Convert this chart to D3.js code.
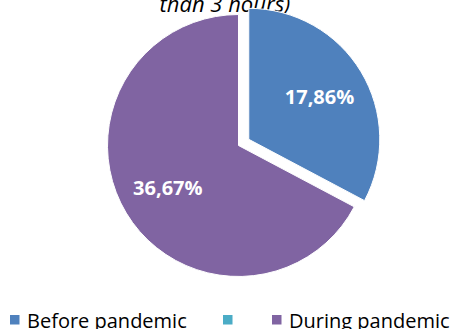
<!DOCTYPE html>
<html>
<head>
<meta charset="utf-8">
<script src="https://cdn.jsdelivr.net/npm/d3@7"></script>
<style>
  html, body { margin: 0; padding: 0; background: #fff; }
  svg { display: block; }
</style>
</head>
<body>
<svg id="chart" width="457" height="329"></svg>
<script>
// Share of respondents (sleeping less than 3 hours)
const categories = ["Before pandemic", "", "During pandemic"];
const values = [17.86, 0, 36.67];
const valueLabels = ["17,86%", "", "36,67%"];
const colors = ["#4F81BD", "#4BACC6", "#8064A2"];
const titleLine = "than 3 hours)";

const svg = d3.select("#chart");

const cx = 238.5, cy = 145.5, R = 131, explode = 12;
const font = "'Open Sans', 'Noto Sans', sans-serif";

// Last visible line of the title
svg.append("text")
  .attr("x", 225).attr("y", 12)
  .attr("text-anchor", "middle")
  .style("font-family", font)
  .style("font-style", "italic")
  .style("font-size", "22px")
  .attr("fill", "#000")
  .text(titleLine);

const data = categories.map((c, i) => ({ cat: c, value: values[i], label: valueLabels[i], color: colors[i] }));

const pie = d3.pie().sort(null).value(d => d.value).startAngle(0).endAngle(2 * Math.PI);
const arcs = pie(data);
const arc = d3.arc().innerRadius(0).outerRadius(R);
const labelArc = d3.arc().innerRadius(R * 0.63).outerRadius(R * 0.63);

const g = svg.append("g").attr("transform", `translate(${cx},${cy})`);

const slice = g.selectAll("g.slice")
  .data(arcs.filter(a => a.data.value > 0))
  .join("g")
  .attr("class", "slice")
  .attr("transform", a => {
    // the first slice is pulled out from the centre
    if (a.index !== 0) return null;
    const m = (a.startAngle + a.endAngle) / 2;
    return `translate(${Math.sin(m) * explode},${-Math.cos(m) * explode})`;
  });

slice.append("path")
  .attr("d", arc)
  .attr("fill", a => a.data.color)
  .attr("stroke", "#fff")
  .attr("stroke-width", 1);

slice.append("text")
  .attr("transform", a => `translate(${labelArc.centroid(a)})`)
  .attr("text-anchor", "middle")
  .attr("dy", "0.36em")
  .style("font-family", font)
  .style("font-weight", "bold")
  .style("font-size", "20px")
  .attr("fill", "#fff")
  .text(a => a.data.label);

// Legend
const legendX = [10, 223, 272];
const legend = svg.append("g");
const item = legend.selectAll("g")
  .data(data)
  .join("g")
  .attr("transform", (d, i) => `translate(${legendX[i]},315)`);
item.append("rect")
  .attr("width", 9.5).attr("height", 9.5)
  .attr("fill", d => d.color);
item.append("text")
  .attr("x", 17).attr("y", 12.5)
  .style("font-family", font)
  .style("font-size", "20px")
  .attr("fill", "#000")
  .text(d => d.cat);
</script>
</body>
</html>
